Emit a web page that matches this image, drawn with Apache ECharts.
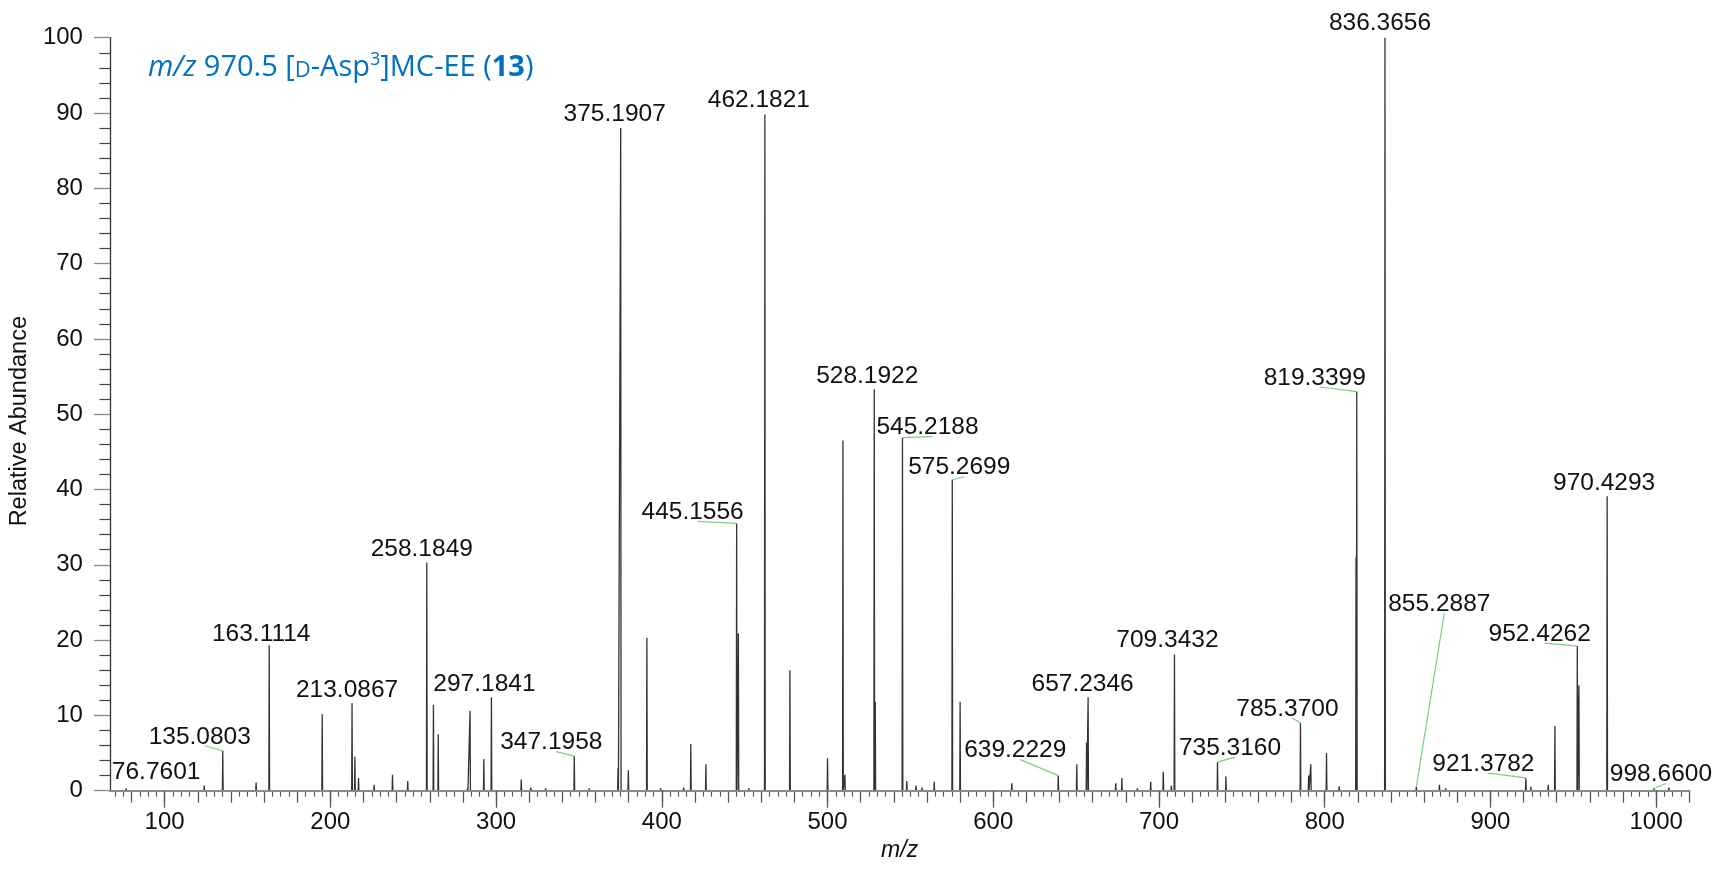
<!DOCTYPE html>
<html><head><meta charset="utf-8">
<script src="https://cdn.jsdelivr.net/npm/echarts@6/dist/echarts.min.js"></script>
<style>html,body{margin:0;padding:0;background:#fff}#c{width:1717px;height:869px}</style>
</head><body><div id="c"></div>
<script>
// ---- data ----
const peakMz = [76.7601, 85.5, 106.7, 123.9, 135.0803, 155.2, 163.1114, 195.1, 213.0867, 214.8, 217.0, 226.4, 237.5, 246.7, 258.1849, 262.2, 265.1, 282.8, 284.3, 292.6, 297.1841, 315.2, 320.9, 329.9, 347.1958, 352.8, 356.2, 373.6, 375.1907, 379.8, 391.0, 396.5, 399.3, 413.2, 417.5, 426.6, 445.1556, 446.2, 452.5, 462.1821, 477.3, 500.0, 509.3, 510.5, 528.1922, 528.8, 545.2188, 547.8, 553.4, 557.0, 564.4, 575.2699, 580.0, 611.2, 624.2, 639.2229, 650.4, 656.3, 657.2346, 673.9, 677.6, 687.0, 695.0, 702.6, 707.5, 709.3432, 735.3160, 740.4, 761.6, 785.3700, 790.3, 791.6, 801.1, 808.7, 818.9, 819.3399, 836.3656, 855.2887, 869.2, 873.0, 921.3782, 924.4, 934.9, 938.9, 952.4262, 953.4, 959.1, 964.5, 970.4293, 974.0, 983.4, 990.4, 998.6600, 1007.7];
const peakInt = [0.3, 0.2, 0.2, 0.7, 5.3, 1.1, 19.3, 10.2, 11.6, 4.5, 1.7, 0.8, 2.1, 1.3, 30.3, 11.4, 7.5, 0.3, 10.6, 4.2, 12.4, 1.5, 0.4, 0.3, 4.6, 0.2, 0.3, 3.0, 88.0, 2.7, 20.3, 0.2, 0.3, 0.4, 6.2, 3.5, 35.5, 20.9, 0.3, 89.8, 16.0, 4.3, 46.5, 2.1, 53.3, 11.8, 46.9, 1.3, 0.7, 0.4, 1.2, 41.3, 11.8, 1.0, 0.2, 2.0, 3.5, 6.4, 12.4, 1.0, 1.7, 0.3, 1.2, 2.5, 0.7, 18.1, 3.8, 1.9, 0.2, 9.0, 2.0, 3.5, 5.0, 0.6, 31.0, 53.0, 100, 0.5, 0.8, 0.3, 1.7, 0.5, 0.8, 8.6, 19.2, 14.0, 0.1, 0.2, 39.1, 0.2, 0.2, 0.2, 0.3, 0.4];
const labelText = ['76.7601','135.0803','163.1114','213.0867','258.1849','297.1841','347.1958','375.1907','445.1556','462.1821','528.1922','545.2188','575.2699','639.2229','657.2346','709.3432','735.3160','785.3700','819.3399','836.3656','855.2887','921.3782','952.4262','970.4293','998.6600'];
const xTickLabels = [100, 200, 300, 400, 500, 600, 700, 800, 900, 1000];
const yTickLabels = [0, 10, 20, 30, 40, 50, 60, 70, 80, 90, 100];
const xMin = 67, xMax = 1020;

// ---- layout (pixel offsets of label centre from peak top) ----
const labelDx = [30,-23,-8,-5,-5,-7,-23,-6,-44,-6,-7,25,7,-43,-5.5,-7,12.5,-13,-42,-5,23,-42.5,-37.6,-3,7];
const labelDy = [-16,-14,-11.5,-13,-13,-13,-13.5,-14,-11,-14,-13,-10,-12,-25,-12.6,-14,-14,-14,-13.6,-14.4,-183,-13.7,-12,-13,-14];
const leader  = [0,1,0,0,0,0,1,0,1,0,0,1,1,1,0,0,1,1,1,0,1,1,1,0,1];

// build the profile polyline
const halfW = 0.22;
const spectrum = [[xMin, 0]];
for (let i = 0; i < peakMz.length; i++) {
  spectrum.push([peakMz[i] - halfW, 0], [peakMz[i], peakInt[i]], [peakMz[i] + halfW, 0]);
}
spectrum.push([xMax, 0]);

const labelData = labelText.map((t, i) => {
  const m = parseFloat(t);
  let k = 0;
  for (let j = 0; j < peakMz.length; j++) if (Math.abs(peakMz[j] - m) < Math.abs(peakMz[k] - m)) k = j;
  return [peakMz[k], peakInt[k], i];
});

const mediumTicks = [], minorTicks = [];
for (let v = 80; v <= xMax; v += 20) mediumTicks.push(v);
for (let v = 70; v <= xMax; v += 5) minorTicks.push(v);

const FONT = '"Liberation Sans", Arial, sans-serif';
const TFONT = '"Open Sans", sans-serif';
const BLUE = '#0070C0';
const chart = echarts.init(document.getElementById('c'));
const baseX = {
  type: 'value', min: xMin, max: xMax, gridIndex: 0, position: 'bottom',
  splitLine: { show: false }
};
chart.setOption({
  animation: false,
  backgroundColor: '#fff',
  title: {
    text: '{i|m/z}{n| 970.5 [}{sc|D}{n|-Asp}{sup|3}{n|]MC-EE (}{b|13}{n|)}',
    left: 143, top: 46,
    textStyle: {
      fontFamily: TFONT, color: BLUE, fontSize: 29, fontWeight: 'normal',
      rich: {
        i: { fontStyle: 'italic', fontWeight: 'normal', fontSize: 29, color: BLUE, fontFamily: TFONT },
        n: { fontSize: 29, fontWeight: 'normal', color: BLUE, fontFamily: TFONT },
        sc: { fontSize: 22, fontWeight: 'normal', color: BLUE, fontFamily: TFONT, padding: [6, 0, 0, 0] },
        sup: { fontSize: 18, fontWeight: 'normal', color: BLUE, fontFamily: TFONT, padding: [0, 0, 15, 0] },
        b: { fontSize: 29, fontWeight: 'bold', color: BLUE, fontFamily: TFONT }
      }
    }
  },
  grid: { left: 96, right: 27.7, top: 37.7, bottom: 78.3, containLabel: false },
  xAxis: [
    Object.assign({}, baseX, {
      z: 3,
      name: 'm/z', nameLocation: 'middle', nameGap: 48,
      nameTextStyle: { fontFamily: FONT, fontSize: 23, fontStyle: 'italic', color: '#111' },
      axisLine: { show: true, lineStyle: { color: '#8a8a8a', width: 2.2 } },
      axisTick: { show: true, customValues: xTickLabels, length: 17, lineStyle: { color: '#555', width: 1.3 } },
      axisLabel: { show: true, customValues: xTickLabels, fontFamily: FONT, fontSize: 24, color: '#111', margin: 20,
        formatter: function (v) { return String(v); } }
    }),
    Object.assign({}, baseX, {
      axisLine: { show: false },
      axisTick: { show: true, customValues: mediumTicks, length: 12, lineStyle: { color: '#555', width: 1.2 } },
      axisLabel: { show: false }
    }),
    Object.assign({}, baseX, {
      axisLine: { show: false },
      axisTick: { show: true, customValues: minorTicks, length: 6, lineStyle: { color: '#555', width: 1.1 } },
      axisLabel: { show: false }
    })
  ],
  yAxis: {
    type: 'value', min: 0, max: 100, interval: 10,
    name: 'Relative Abundance', nameLocation: 'middle', nameGap: 52,
    nameTextStyle: { fontFamily: FONT, fontSize: 23.5, color: '#111', padding: [0, 14, 0, 0] },
    axisLine: { show: true, lineStyle: { color: '#333', width: 1.3 } },
    axisTick: { show: true, length: 16, lineStyle: { color: '#888', width: 1.3 } },
    minorTick: { show: true, splitNumber: 5, length: 10.5, lineStyle: { color: '#444', width: 1.2 } },
    axisLabel: { fontFamily: FONT, fontSize: 24, color: '#111', margin: 27,
      customValues: yTickLabels, formatter: function (v) { return String(v); } },
    splitLine: { show: false }, minorSplitLine: { show: false }
  },
  series: [
    {
      type: 'line', xAxisIndex: 0, data: spectrum, symbol: 'none', silent: true,
      lineStyle: { color: '#333', width: 1.3 }, z: 2
    },
    {
      type: 'custom', xAxisIndex: 0, data: labelData, silent: true, z: 4,
      encode: { x: 0, y: 1 },
      renderItem: function (params, api) {
        const i = api.value(2);
        const p = api.coord([api.value(0), api.value(1)]);
        const cx = p[0] + labelDx[i], cy = p[1] + labelDy[i];
        const children = [];
        if (leader[i]) {
          children.push({ type: 'line', shape: { x1: p[0], y1: p[1], x2: cx + 5, y2: cy + 9 },
            style: { stroke: '#7dcf7d', lineWidth: 1.2 } });
        }
        children.push({ type: 'text', style: { x: cx, y: cy, text: labelText[i], fill: '#111',
          font: '24.5px ' + FONT, align: 'center', verticalAlign: 'middle' } });
        return { type: 'group', children: children };
      }
    }
  ]
});
</script></body></html>
